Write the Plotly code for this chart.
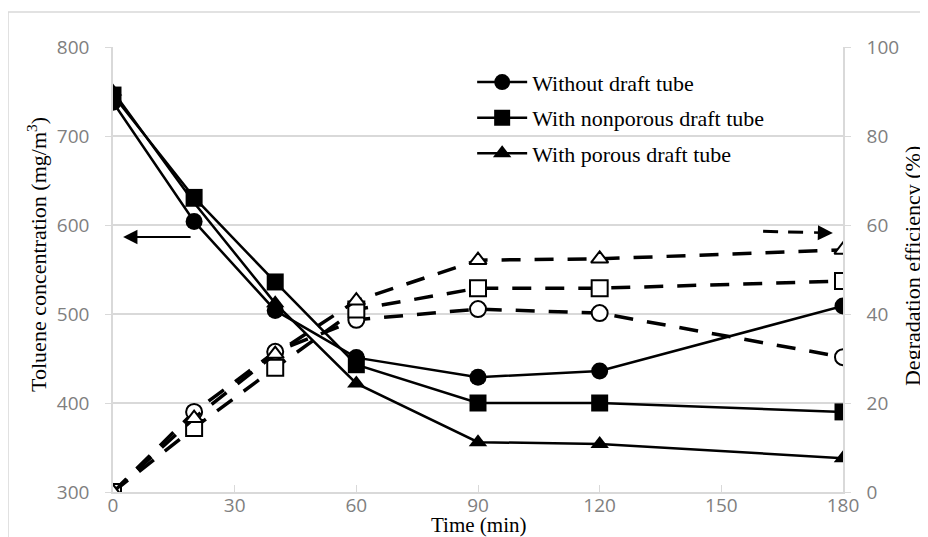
import plotly.graph_objects as go

time_min = [0, 20, 40, 60, 90, 120, 180]

# Toluene concentration (mg/m3), left axis
conc_without = [738, 604, 504, 451, 429, 436, 509]
conc_nonporous = [746, 631, 536, 443, 400, 400, 390]
conc_porous = [750, 625, 512, 422, 356, 354, 338]

# Degradation efficiency (%), right axis
eff_without = [0, 18.0, 31.5, 38.7, 41.1, 40.2, 30.3]
eff_nonporous = [0, 14.4, 27.9, 41.0, 45.8, 45.8, 47.4]
eff_porous = [0, 16.6, 31.0, 43.0, 52.1, 52.4, 54.4]

names = ["Without draft tube", "With nonporous draft tube", "With porous draft tube"]
symbols = ["circle", "square", "triangle-up"]

x_ticks = [0, 30, 60, 90, 120, 150, 180]
left_ticks = [300, 400, 500, 600, 700, 800]
right_ticks = [0, 20, 40, 60, 80, 100]

GRID = "#d9d9d9"
TICKCOL = "#7f7f7f"
SERIF = "Liberation Serif"

fig = go.Figure()

# dashed efficiency series (open markers)
for vals, sym in zip([eff_without, eff_nonporous, eff_porous], symbols):
    fig.add_trace(go.Scatter(
        x=time_min, y=vals, yaxis="y2", mode="lines+markers", showlegend=False,
        line=dict(color="black", width=3.5, dash="19px,14px"),
        marker=dict(symbol=sym, size=16 if sym != "triangle-up" else 15,
                    color="white", line=dict(color="black", width=2)),
    ))

# solid concentration series
for i, (vals, sym, nm) in enumerate(zip([conc_without, conc_nonporous, conc_porous], symbols, names)):
    fig.add_trace(go.Scatter(
        x=time_min, y=vals, yaxis="y", mode="lines+markers", name=nm,
        legendgroup=f"g{i}",
        line=dict(color="black", width=2.5),
        marker=dict(symbol=sym, size=17 if sym != "triangle-up" else 16, color="black"),
    ))

# left-pointing solid arrow (concentration -> left axis)
fig.add_annotation(x=2.5, y=586.5, ax=19.5, ay=586.5, xref="x", yref="y",
                   axref="x", ayref="y", text="", showarrow=True,
                   arrowhead=2, arrowsize=1.3, arrowwidth=2.2, arrowcolor="black")
# right-pointing dashed arrow (efficiency -> right axis)
fig.add_shape(type="line", xref="x", yref="y2", x0=160.3, y0=58.6, x1=172.5, y1=58.3,
              line=dict(color="black", width=3, dash="15px,10px"))
fig.add_annotation(x=177.5, y=58.2, ax=172.5, ay=58.3, xref="x", yref="y2",
                   axref="x", ayref="y2", text="", showarrow=True,
                   arrowhead=2, arrowsize=1.2, arrowwidth=2.5, arrowcolor="black")

# axis titles as annotations
fig.add_annotation(x=-0.104, y=0.533, xref="paper", yref="paper", showarrow=False,
                   xanchor="center", yanchor="middle",
                   text="Toluene concentration (mg/m<sup>3</sup>)", textangle=-90,
                   font=dict(family=SERIF, size=22, color="black"))
fig.add_annotation(x=1.096, y=0.508, xref="paper", yref="paper", showarrow=False,
                   xanchor="center", yanchor="middle",
                   text="Degradation efficiency (%)", textangle=-90,
                   font=dict(family=SERIF, size=22, color="black"))
fig.add_annotation(x=0.501, y=-0.0745, xref="paper", yref="paper", showarrow=False,
                   xanchor="center", yanchor="middle",
                   text="Time (min)", font=dict(family=SERIF, size=21, color="black"))

# outer chart border (top and left visible)
fig.add_shape(type="rect", xref="paper", yref="paper", x0=-0.1438, x1=1.2,
              y0=-0.2, y1=1.0787, line=dict(color=GRID, width=1.5), layer="below")

fig.update_layout(
    width=920, height=529,
    margin=dict(l=105, r=85, t=39, b=45),
    paper_bgcolor="white", plot_bgcolor="white",
    xaxis=dict(range=[0, 180], tickvals=x_ticks, showgrid=False, zeroline=False,
               showline=True, linecolor=GRID, linewidth=1.5, automargin=False,
               ticks="inside", ticklen=7, tickcolor=GRID, ticklabelstandoff=-5,
               tickfont=dict(family="Open Sans", size=19, color=TICKCOL)),
    yaxis=dict(range=[300, 800], tickvals=left_ticks, showgrid=True, gridcolor=GRID,
               gridwidth=1.5, zeroline=False, showline=True, linecolor=GRID, linewidth=1.5,
               ticks="outside", ticklen=6, tickcolor=GRID, ticklabelstandoff=12,
               automargin=False,
               tickfont=dict(family="Open Sans", size=19, color=TICKCOL)),
    yaxis2=dict(range=[0, 100], tickvals=right_ticks, overlaying="y", side="right",
                showgrid=False, zeroline=False, showline=True, linecolor=GRID, linewidth=1.5,
                ticks="outside", ticklen=6, tickcolor=GRID, ticklabelstandoff=12,
                automargin=False,
                tickfont=dict(family="Open Sans", size=19, color=TICKCOL)),
    legend=dict(x=0.492, y=0.968, xanchor="left", yanchor="top", bgcolor="rgba(0,0,0,0)",
                font=dict(family=SERIF, size=22, color="black"), tracegroupgap=4,
                itemwidth=50),
)

fig.write_html("out.html")
